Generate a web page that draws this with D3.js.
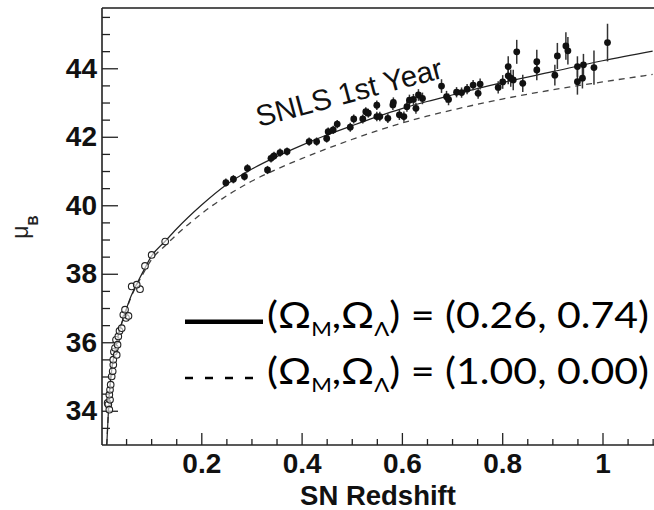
<!DOCTYPE html>
<html>
<head>
<meta charset="utf-8">
<script src="https://cdn.jsdelivr.net/npm/d3@7"></script>
<style>
  html, body { margin: 0; padding: 0; background: #fff; }
  svg { display: block; }
</style>
</head>
<body>
<svg id="chart" width="654" height="510"></svg>
<script>
// ---------- data ----------
const xTickValues = [0.2, 0.4, 0.6, 0.8, 1];
const yTickValues = [34, 36, 38, 40, 42, 44];

// model curves
const curveZ  = [0.0115,0.0135,0.0155,0.0175,0.021,0.025,0.031,0.04,0.05,0.06,0.072,0.087,0.1,0.128,0.15,0.2,0.25,0.3,0.35,0.4,0.45,0.5,0.55,0.6,0.65,0.7,0.8,0.9,1.0,1.1];
const muLCDM  = [33.0,33.6,34.2,34.65,35.15,35.55,36.0,36.5,36.95,37.35,37.72,38.15,38.5,38.95,39.3,40.0,40.6,41.05,41.42,41.75,42.05,42.32,42.58,42.82,43.03,43.22,43.58,43.9,44.22,44.5];
const muEdS   = [33.0,33.6,34.2,34.65,35.15,35.55,36.0,36.49,36.93,37.32,37.68,38.08,38.4,38.82,39.13,39.75,40.27,40.7,41.05,41.36,41.65,41.92,42.17,42.4,42.6,42.78,43.1,43.37,43.6,43.82];

// low-redshift supernovae (open circles)
const lowZ  = [0.0132,0.0146,0.0166,0.018,0.0166,0.018,0.0193,0.0213,0.0233,0.0245,0.0245,0.0257,0.0313,0.0279,0.0299,0.033,0.0345,0.0369,0.0413,0.0499,0.0445,0.0548,0.0479,0.0778,0.0612,0.0712,0.0877,0.101,0.128];
const lowMu = [34.23,34.18,34.03,34.32,34.47,34.61,34.76,35.0,35.15,35.34,35.49,35.72,35.63,35.83,36.07,35.93,36.17,36.33,36.41,36.71,36.8,36.77,36.95,37.55,37.63,37.68,38.23,38.55,38.94];

// SNLS 1st year supernovae (filled points with error bars)
const snlsZ   = [0.249,0.264,0.286,0.292,0.332,0.339,0.345,0.357,0.371,0.415,0.43,0.45,0.453,0.463,0.471,0.497,0.504,0.522,0.528,0.533,0.55,0.55,0.556,0.572,0.582,0.583,0.595,0.604,0.61,0.615,0.623,0.628,0.633,0.641,0.679,0.689,0.693,0.709,0.719,0.73,0.742,0.752,0.756,0.792,0.801,0.812,0.812,0.817,0.822,0.829,0.841,0.869,0.869,0.905,0.91,0.927,0.931,0.95,0.95,0.96,0.962,0.983,1.01];
const snlsMu  = [40.66,40.76,40.84,41.08,41.03,41.37,41.44,41.54,41.57,41.86,41.86,41.95,42.15,42.2,42.37,42.28,42.52,42.52,42.73,42.69,42.59,42.92,42.59,42.54,42.93,43.0,42.64,42.59,42.88,43.07,43.09,42.83,43.22,43.12,43.48,43.17,43.09,43.3,43.29,43.39,43.51,43.27,43.54,43.44,43.6,44.05,43.78,43.71,43.66,44.48,43.56,44.19,43.95,43.8,44.36,44.65,44.51,43.61,44.05,43.71,44.1,44.02,44.75];
const snlsErr = [0.12,0.12,0.12,0.12,0.12,0.12,0.12,0.12,0.12,0.12,0.12,0.12,0.12,0.12,0.12,0.13,0.13,0.13,0.13,0.13,0.14,0.14,0.14,0.14,0.15,0.15,0.15,0.15,0.15,0.16,0.16,0.16,0.17,0.17,0.2,0.17,0.17,0.15,0.15,0.15,0.15,0.16,0.16,0.18,0.2,0.3,0.25,0.25,0.3,0.35,0.25,0.35,0.3,0.3,0.38,0.4,0.4,0.38,0.3,0.3,0.32,0.5,0.55];

const xLabel = "SN Redshift";
const yLabel = "μ";
const yLabelSub = "B";
const annotation = "SNLS 1st Year";
const legendLabels = [["0.26", "0.74"], ["1.00", "0.00"]];

// ---------- layout ----------
const svg = d3.select("#chart");
const W = 654, H = 510;
const mLeft = 102, mTop = 8, mBottom = 445;

const x = d3.scaleLinear().domain([0, 1.11]).range([101, 101 + 1.11 * 501.5]);
const y = d3.scaleLinear().domain([33, 45.76]).range([mBottom, mTop]);

svg.append("defs").append("clipPath").attr("id", "plotclip")
  .append("rect").attr("x", mLeft).attr("y", mTop).attr("width", W - mLeft).attr("height", mBottom - mTop);

const tickFont = "'Liberation Sans', Arial, Helvetica, sans-serif";

// top frame line
svg.append("line").attr("x1", mLeft).attr("x2", W).attr("y1", mTop).attr("y2", mTop)
  .attr("stroke", "#555").attr("stroke-width", 2);

// x axis minor ticks
const xMinor = d3.range(0.05, 1.11, 0.05).filter(v => Math.abs(v * 5 - Math.round(v * 5)) > 1e-6);
const gxMinor = svg.append("g").attr("transform", `translate(0,${mBottom})`)
  .call(d3.axisBottom(x).tickValues(xMinor).tickSize(-6).tickFormat(""));
gxMinor.select(".domain").remove();

const gx = svg.append("g").attr("transform", `translate(0,${mBottom})`)
  .call(d3.axisBottom(x).tickValues(xTickValues).tickSize(-12).tickPadding(8).tickFormat(d3.format("")));
gx.select(".domain").remove();
gx.selectAll("text").attr("font-family", tickFont).attr("font-weight", "bold").attr("font-size", 28).attr("fill", "#111");

// y axis
const yMinor = d3.range(33.5, 45.76, 0.5).filter(v => !yTickValues.includes(v));
const gyMinor = svg.append("g").attr("transform", `translate(${mLeft},0)`)
  .call(d3.axisLeft(y).tickValues(yMinor).tickSize(-8).tickFormat(""));
gyMinor.select(".domain").remove();

const gy = svg.append("g").attr("transform", `translate(${mLeft},0)`)
  .call(d3.axisLeft(y).tickValues(yTickValues).tickSize(-16).tickPadding(5).tickFormat(d3.format("")));
gy.select(".domain").remove();
gy.selectAll("text").attr("font-family", tickFont).attr("font-weight", "bold").attr("font-size", 28).attr("fill", "#111");

svg.selectAll(".tick line").attr("stroke", "#222").attr("stroke-width", 1.3);

// axis lines
svg.append("line").attr("x1", mLeft).attr("x2", W).attr("y1", mBottom).attr("y2", mBottom)
  .attr("stroke", "#222").attr("stroke-width", 1.6);
svg.append("line").attr("x1", mLeft).attr("x2", mLeft).attr("y1", mTop).attr("y2", mBottom)
  .attr("stroke", "#222").attr("stroke-width", 1.6);

// ---------- curves ----------
const plot = svg.append("g").attr("clip-path", "url(#plotclip)");
const lineGen = (mu) => d3.line().x((d, i) => x(curveZ[i])).y((d, i) => y(mu[i])).curve(d3.curveMonotoneX)(curveZ);

plot.append("path").attr("d", lineGen(muEdS)).attr("fill", "none")
  .attr("stroke", "#444").attr("stroke-width", 1.3).attr("stroke-dasharray", "6,5");
plot.append("path").attr("d", lineGen(muLCDM)).attr("fill", "none")
  .attr("stroke", "#222").attr("stroke-width", 1.2);

// ---------- data points ----------
plot.selectAll("line.err").data(snlsZ).join("line").attr("class", "err")
  .attr("x1", (d) => x(d)).attr("x2", (d) => x(d))
  .attr("y1", (d, i) => y(snlsMu[i] - snlsErr[i])).attr("y2", (d, i) => y(snlsMu[i] + snlsErr[i]))
  .attr("stroke", "#333").attr("stroke-width", 1.5);
plot.selectAll("circle.snls").data(snlsZ).join("circle").attr("class", "snls")
  .attr("cx", (d) => x(d)).attr("cy", (d, i) => y(snlsMu[i])).attr("r", 3.4).attr("fill", "#111");

plot.selectAll("circle.low").data(lowZ).join("circle").attr("class", "low")
  .attr("cx", (d) => x(d)).attr("cy", (d, i) => y(lowMu[i])).attr("r", 3.3)
  .attr("fill", "#fff").attr("fill-opacity", 0.6).attr("stroke", "#222").attr("stroke-width", 1.1);

// ---------- labels ----------
svg.append("text").attr("x", 378).attr("y", 505).attr("text-anchor", "middle")
  .attr("font-family", tickFont).attr("font-weight", "bold").attr("font-size", 27.5).attr("fill", "#111")
  .text(xLabel);

const yl = svg.append("text").attr("transform", "translate(28,227) rotate(-90)")
  .attr("text-anchor", "middle").attr("font-family", tickFont).attr("fill", "#222");
yl.append("tspan").attr("font-size", 23).text(yLabel);
yl.append("tspan").attr("font-size", 14).attr("font-weight", "bold").attr("dy", 10).text(yLabelSub);

svg.append("text").attr("transform", "translate(259,127) rotate(-15)")
  .attr("font-family", tickFont).attr("font-size", 29.5).attr("fill", "#111")
  .text(annotation);

// ---------- legend ----------
const legFont = "Lato, 'Open Sans', sans-serif";
svg.append("line").attr("x1", 185).attr("x2", 263).attr("y1", 321.7).attr("y2", 321.7)
  .attr("stroke", "#000").attr("stroke-width", 4.5);
svg.append("line").attr("x1", 185).attr("x2", 262).attr("y1", 378).attr("y2", 378)
  .attr("stroke", "#000").attr("stroke-width", 2.5).attr("stroke-dasharray", "8,12");

[328, 384].forEach((base, k) => {
  const t = svg.append("text").attr("transform", `translate(267,${base}) scale(1.11,1)`)
    .attr("font-family", legFont).attr("font-size", 37).attr("fill", "#000");
  t.append("tspan").text("(Ω");
  t.append("tspan").attr("font-size", 20).attr("dy", 8).text("M");
  t.append("tspan").attr("dy", -8).text(",Ω");
  t.append("tspan").attr("font-size", 20).attr("dy", 8).text("Λ");
  t.append("tspan").attr("dy", -8).text(`) = (${legendLabels[k][0]}, ${legendLabels[k][1]})`);
});
</script>
</body>
</html>
